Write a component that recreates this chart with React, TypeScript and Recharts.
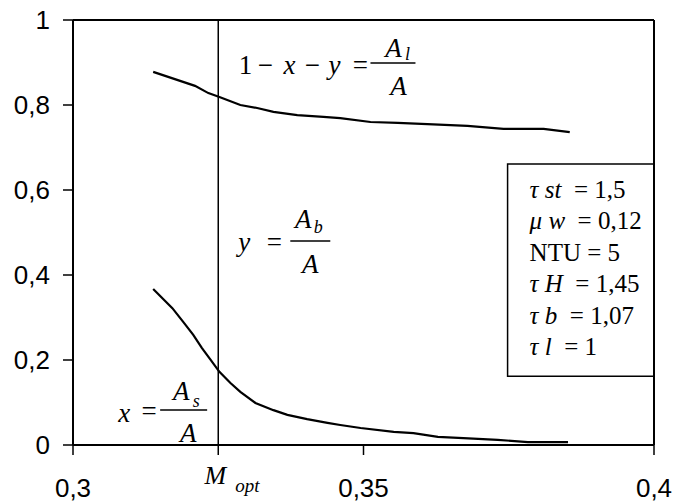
import React from 'react';
import { LineChart, Line, XAxis, YAxis, ReferenceLine, ReferenceArea, ReferenceDot } from 'recharts';

// upper curve: 1 - x - y (share of A_l)
const liquidM = [0.3138, 0.3210, 0.3233, 0.3252, 0.3288, 0.3317, 0.3345, 0.3386, 0.3431, 0.3460, 0.3512, 0.3559, 0.3610, 0.3679, 0.3741, 0.3810, 0.3855];
const liquidShare = [0.878, 0.845, 0.828, 0.819, 0.800, 0.793, 0.784, 0.776, 0.772, 0.769, 0.760, 0.758, 0.755, 0.751, 0.744, 0.744, 0.736];

// lower curve: x (share of A_s)
const solidM = [0.3138, 0.3171, 0.3190, 0.3207, 0.3222, 0.3236, 0.3252, 0.3271, 0.3288, 0.3314, 0.3345, 0.3369, 0.3403, 0.3438, 0.3460, 0.3495, 0.3552, 0.3586, 0.3628, 0.3672, 0.3731, 0.3783, 0.3852];
const solidShare = [0.367, 0.322, 0.289, 0.259, 0.228, 0.202, 0.172, 0.146, 0.125, 0.099, 0.082, 0.071, 0.061, 0.052, 0.047, 0.040, 0.031, 0.028, 0.019, 0.016, 0.012, 0.007, 0.007];

const MOPT = 0.325;
const xTicks = [0.3, MOPT, 0.35, 0.4];
const yTicks = [0, 0.2, 0.4, 0.6, 0.8, 1];

// parameter box: symbol, italic index, value
const paramSymbols = ['τ', 'μ', '', 'τ', 'τ', 'τ'];
const paramIndices = ['st', 'w', '', 'H', 'b', 'l'];
const paramValues = ['= 1,5', '= 0,12', 'NTU = 5', '= 1,45', '= 1,07', '= 1'];

const liquidData = liquidM.map((m, i) => ({ m, y: liquidShare[i] }));
const solidData = solidM.map((m, i) => ({ m, y: solidShare[i] }));

const fmt = (v: number) => String(v).replace('.', ',');
const SERIF = 'Liberation Serif';
const SANS = 'Liberation Sans';
const NB = '\u00a0';

const XTick = (props: any) => {
  const { x, y, payload } = props;
  if (payload.value === MOPT) {
    return (
      <g fill="#000" fontFamily={SERIF} fontStyle="italic">
        <text x={x - 3} y={y + 29} textAnchor="middle" fontSize={26}>M</text>
        <text x={x + 17} y={y + 37} fontSize={19}>opt</text>
      </g>
    );
  }
  return (
    <text x={x} y={y + 42} textAnchor="middle" fontFamily={SANS} fontSize={26} fill="#000">
      {fmt(payload.value)}
    </text>
  );
};

const it = (s: string) => <tspan fontStyle="italic">{s}</tspan>;

// fraction A_sub / A with its bar starting at (cx, cy)
const fraction = (cx: number, cy: number, w: number, sub: string, numA: number, numY: number, subX: number, subY: number, denA: number) => (
  <g>
    <line x1={cx} x2={cx + w} y1={cy} y2={cy} stroke="#000" strokeWidth={1.5} />
    <text x={cx + numA} y={cy + numY} textAnchor="middle" fontStyle="italic">A</text>
    <text x={cx + subX} y={cy + subY} textAnchor="middle" fontStyle="italic" fontSize={18}>{sub}</text>
    <text x={cx + denA} y={cy + 32} textAnchor="middle" fontStyle="italic">A</text>
  </g>
);

const LiquidLabel = ({ cx, cy }: any) => (
  <g fontFamily={SERIF} fontSize={27} fill="#000">
    <text x={cx - 125} y={cy + 11} textAnchor="middle">1</text>
    <text x={cx - 105} y={cy + 11} textAnchor="middle">−</text>
    <text x={cx - 81} y={cy + 11} textAnchor="middle" fontStyle="italic">x</text>
    <text x={cx - 58} y={cy + 11} textAnchor="middle">−</text>
    <text x={cx - 36} y={cy + 11} textAnchor="middle" fontStyle="italic">y</text>
    <text x={cx - 10} y={cy + 11} textAnchor="middle">=</text>
    {fraction(cx, cy, 45, 'l', 23, -6, 37, -3, 28)}
  </g>
);

const BubbleLabel = ({ cx, cy }: any) => (
  <g fontFamily={SERIF} fontSize={27} fill="#000">
    <text x={cx - 46} y={cy + 10} textAnchor="middle" fontStyle="italic">y</text>
    <text x={cx - 16} y={cy + 10} textAnchor="middle">=</text>
    {fraction(cx, cy, 40, 'b', 13, -13, 28, -8, 20)}
  </g>
);

const SolidLabel = ({ cx, cy }: any) => (
  <g fontFamily={SERIF} fontSize={27} fill="#000">
    <text x={cx - 36} y={cy + 12} textAnchor="middle" fontStyle="italic">x</text>
    <text x={cx - 11} y={cy + 10} textAnchor="middle">=</text>
    {fraction(cx, cy, 47, 's', 21, -10, 36, -3, 28)}
  </g>
);

const ParamBox = ({ cx, cy }: any) => (
  <g fontFamily={SERIF} fontSize={25} fill="#000">
    {paramValues.map((v, i) => (
      <text key={i} x={cx + 22} y={cy + 34 + i * 31.4}>
        {paramSymbols[i] ? (
          <>
            {it(paramSymbols[i])}
            {NB}
            {it(paramIndices[i])}
            {NB + NB + v}
          </>
        ) : v}
      </text>
    ))}
  </g>
);

export default function App() {
  return (
    <div style={{ position: 'absolute', left: 0, top: 0, background: '#fff' }}>
      <LineChart width={675} height={504} margin={{ top: 20, right: 21, bottom: 0, left: 0 }}>
        <XAxis
          type="number"
          dataKey="m"
          domain={[0.3, 0.4]}
          ticks={xTicks}
          interval={0}
          height={59}
          tickSize={10}
          tickMargin={0}
          axisLine={{ stroke: '#000', strokeWidth: 2 }}
          tickLine={{ stroke: '#000', strokeWidth: 1.5 }}
          tick={<XTick />}
          allowDataOverflow
        />
        <YAxis
          type="number"
          domain={[0, 1]}
          ticks={yTicks}
          interval={0}
          width={73}
          tickSize={10}
          tickMargin={13}
          axisLine={{ stroke: '#000', strokeWidth: 2 }}
          tickLine={{ stroke: '#000', strokeWidth: 1.5 }}
          tick={{ fill: '#000', fontSize: 26, fontFamily: SANS }}
          tickFormatter={fmt}
        />
        <ReferenceLine y={1} stroke="#000" strokeWidth={2} />
        <ReferenceLine x={0.4} stroke="#000" strokeWidth={2} />
        <ReferenceLine x={MOPT} stroke="#000" strokeWidth={1.5} />
        <ReferenceArea x1={0.3748} x2={0.4} y1={0.162} y2={0.661} fill="#fff" fillOpacity={1} stroke="#000" strokeWidth={1.5} />
        <ReferenceDot x={0.3748} y={0.661} r={0} shape={(p: any) => <ParamBox {...p} />} />
        <Line data={liquidData} dataKey="y" type="linear" stroke="#000" strokeWidth={2.2} dot={false} isAnimationActive={false} />
        <Line data={solidData} dataKey="y" type="linear" stroke="#000" strokeWidth={2.2} dot={false} isAnimationActive={false} />
        <ReferenceDot x={0.3512} y={0.899} r={0} shape={(p: any) => <LiquidLabel {...p} />} />
        <ReferenceDot x={0.3374} y={0.48} r={0} shape={(p: any) => <BubbleLabel {...p} />} />
        <ReferenceDot x={0.315} y={0.0824} r={0} shape={(p: any) => <SolidLabel {...p} />} />
      </LineChart>
    </div>
  );
}
